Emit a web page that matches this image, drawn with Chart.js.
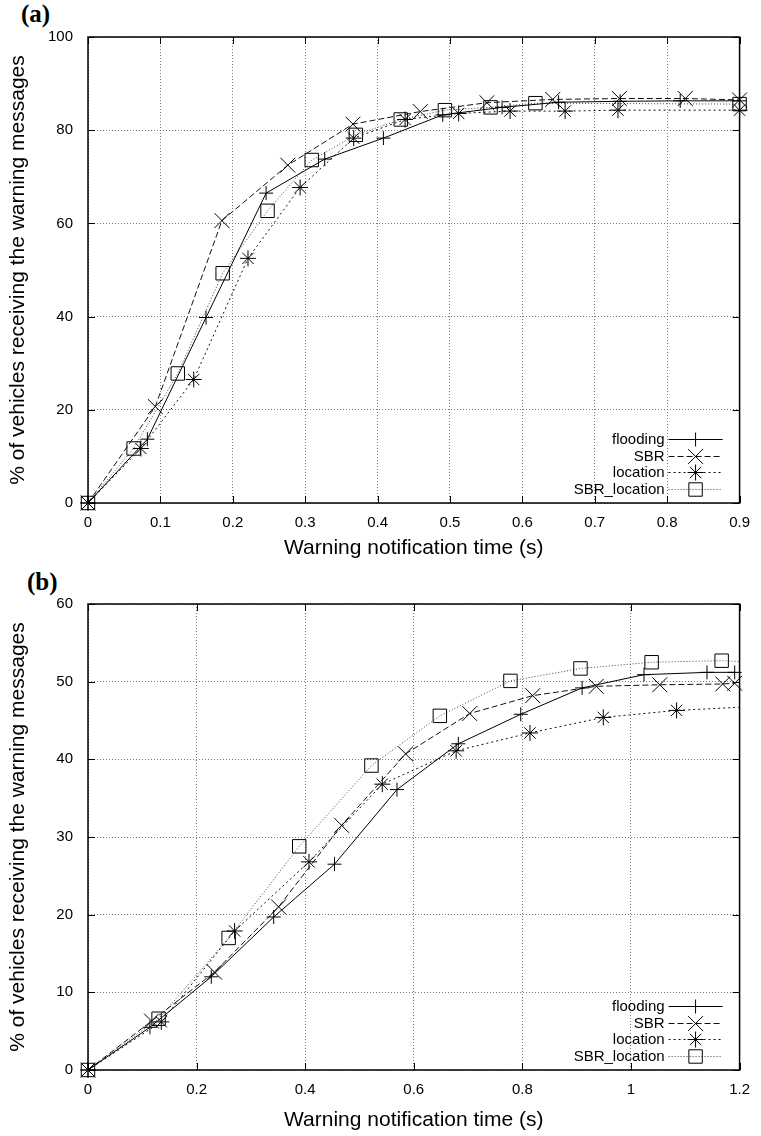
<!DOCTYPE html>
<html>
<head>
<meta charset="utf-8">
<script src="https://cdn.jsdelivr.net/npm/chart.js@4.4.1/dist/chart.umd.min.js"></script>
<style>
    body { margin: 0; background: #fff; width: 761px; height: 1136px; position: relative; overflow: hidden; }
    .panel { position: absolute; left: 0; width: 761px; }
    .tag { position: absolute; font-family: "Liberation Serif", "DejaVu Serif", serif; font-weight: bold; font-size: 25px; line-height: 26px; color: #000; }
</style>
</head>
<body>
<div class="tag" style="left:21px; top:1px;">(a)</div>
<div class="panel" style="top:0; height:565px;"><canvas id="chartA" width="761" height="565"></canvas></div>
<div class="tag" style="left:27px; top:569px;">(b)</div>
<div class="panel" style="top:565px; height:571px;"><canvas id="chartB" width="761" height="571"></canvas></div>
<script>
// Series names (legend order)
const seriesNames = ["flooding", "SBR", "location", "SBR_location"];

// Panel (a) - warning notification time (s) / % of vehicles
const floodingTimeA = [0, 0.082, 0.163, 0.246, 0.327, 0.408, 0.490, 0.572, 0.650, 0.735, 0.818, 0.9];
const floodingPctA = [0, 13.7, 39.8, 66.5, 73.8, 78.3, 83.3, 84.9, 86.0, 86.2, 86.3, 86.3];
const sbrTimeA = [0, 0.093, 0.185, 0.276, 0.366, 0.459, 0.551, 0.642, 0.734, 0.825, 0.9];
const sbrPctA = [0, 20.7, 60.6, 72.5, 81.3, 84.0, 85.9, 86.6, 86.8, 86.8, 86.5];
const locationTimeA = [0, 0.073, 0.146, 0.221, 0.293, 0.367, 0.438, 0.512, 0.583, 0.659, 0.732, 0.9];
const locationPctA = [0, 11.7, 26.5, 52.5, 67.7, 78.3, 82.3, 83.6, 84.1, 84.1, 84.3, 84.3];
const sbrLocationTimeA = [0, 0.063, 0.124, 0.186, 0.248, 0.309, 0.370, 0.432, 0.493, 0.556, 0.618, 0.9];
const sbrLocationPctA = [0, 11.7, 27.8, 49.3, 62.7, 73.6, 79.0, 82.3, 84.3, 84.9, 85.8, 85.6];

const xTickLabelsA = ["0", "0.1", "0.2", "0.3", "0.4", "0.5", "0.6", "0.7", "0.8", "0.9"];
const yTickLabelsA = ["0", "20", "40", "60", "80", "100"];

// Panel (b)
const floodingTimeB = [0, 0.114, 0.227, 0.342, 0.454, 0.569, 0.682, 0.797, 0.910, 1.024, 1.140, 1.191];
const floodingPctB = [0, 5.5, 12.0, 19.7, 26.5, 36.1, 42.0, 45.8, 49.2, 50.9, 51.2, 51.2];
const sbrTimeB = [0, 0.117, 0.233, 0.351, 0.467, 0.585, 0.703, 0.819, 0.936, 1.053, 1.169, 1.191];
const sbrPctB = [0, 6.3, 12.6, 21.0, 31.5, 40.7, 45.9, 48.2, 49.4, 49.6, 49.7, 49.8];
const locationTimeB = [0, 0.135, 0.270, 0.407, 0.542, 0.678, 0.814, 0.949, 1.084, 1.2];
const locationPctB = [0, 6.2, 17.9, 26.8, 36.8, 41.1, 43.4, 45.4, 46.3, 46.7];
const sbrLocationTimeB = [0, 0.130, 0.259, 0.389, 0.522, 0.648, 0.778, 0.907, 1.038, 1.167, 1.2];
const sbrLocationPctB = [0, 6.6, 17.0, 28.8, 39.2, 45.6, 50.1, 51.7, 52.5, 52.7, 52.6];
// last point of these curves has no marker (line runs on to the border)
const unmarkedTailB = [0, 0, 1, 1];

const xTickLabelsB = ["0", "0.2", "0.4", "0.6", "0.8", "1", "1.2"];
const yTickLabelsB = ["0", "10", "20", "30", "40", "50", "60"];

// gnuplot-like line / point styles
const seriesStyles = [
    { pointStyle: "cross", radius: 7, dash: [], color: "#000" },
    { pointStyle: "crossRot", radius: 10.5, dash: [6, 3], color: "#111" },
    { pointStyle: "star", radius: 8, dash: [2, 3], color: "#111" },
    { pointStyle: "rect", radius: 9.5, dash: [1, 2], color: "#444" }
];

Chart.defaults.font.family = "'Liberation Sans', Arial, Helvetica, sans-serif";
Chart.defaults.color = "#000";

function buildDatasets(times, values, tails) {
    return seriesNames.map((name, i) => {
        const st = seriesStyles[i];
        const marked = times[i].length - (tails ? tails[i] : 0);
        return {
            label: name,
            data: times[i].map((t, k) => ({ x: t, y: values[i][k] })),
            borderColor: st.color,
            borderWidth: 1,
            borderDash: st.dash,
            fill: false,
            tension: 0,
            pointStyle: st.pointStyle,
            pointRadius: ctx => (ctx.dataIndex < marked ? st.radius : 0),
            pointHoverRadius: st.radius,
            pointBorderColor: "#000",
            pointBackgroundColor: "rgba(0,0,0,0)",
            pointBorderWidth: 1,
            clip: false
        };
    });
}

// Frame, inward tick marks and the key in the lower right
const gnuplotFrame = {
    id: "gnuplotFrame",
    afterDraw(chart) {
        const { ctx, chartArea: a, scales } = chart;
        ctx.save();
        ctx.strokeStyle = "#000";
        ctx.lineWidth = 1;
        ctx.beginPath();
        scales.x.ticks.forEach(t => {
            const px = Math.round(scales.x.getPixelForValue(t.value)) + 0.5;
            ctx.moveTo(px, a.bottom); ctx.lineTo(px, a.bottom - 7);
            ctx.moveTo(px, a.top); ctx.lineTo(px, a.top + 7);
        });
        scales.y.ticks.forEach(t => {
            const py = Math.round(scales.y.getPixelForValue(t.value)) + 0.5;
            ctx.moveTo(a.left, py); ctx.lineTo(a.left + 7, py);
            ctx.moveTo(a.right, py); ctx.lineTo(a.right - 7, py);
        });
        ctx.stroke();
        ctx.lineWidth = 1.5;
        ctx.strokeRect(a.left, a.top, a.right - a.left, a.bottom - a.top);

        // key
        ctx.font = "15px 'Liberation Sans', Arial, sans-serif";
        ctx.textAlign = "right";
        ctx.textBaseline = "middle";
        chart.data.datasets.forEach((ds, i) => {
            const y = Math.round(a.bottom - 64 + i * 16.5) + 0.5;
            ctx.fillStyle = "#000";
            ctx.fillText(ds.label, a.right - 75, y);
            ctx.strokeStyle = ds.borderColor;
            ctx.lineWidth = 1;
            ctx.setLineDash(ds.borderDash);
            ctx.beginPath();
            ctx.moveTo(a.right - 71, y);
            ctx.lineTo(a.right - 17, y);
            ctx.stroke();
            ctx.setLineDash([]);
            ctx.strokeStyle = "#000";
            ctx.fillStyle = "rgba(0,0,0,0)";
            Chart.helpers.drawPoint(ctx, {
                pointStyle: ds.pointStyle,
                radius: seriesStyles[i].radius,
                borderWidth: 1,
                rotation: 0
            }, a.right - 44, y);
        });
        ctx.restore();
    }
};

function initPanel(canvasId, datasets, opts) {
    const canvas = document.getElementById(canvasId);
    if (!canvas || !window.Chart) {
        console.error("Canvas element or Chart.js not found");
        return;
    }
    const tickFont = { size: 15 };
    return new Chart(canvas.getContext("2d"), {
        type: "line",
        data: { datasets: datasets },
        plugins: [gnuplotFrame],
        options: {
            responsive: false,
            animation: false,
            layout: { padding: opts.padding },
            plugins: { legend: { display: false }, tooltip: { enabled: false } },
            scales: {
                x: {
                    type: "linear",
                    min: 0,
                    max: opts.xMax,
                    ticks: {
                        stepSize: opts.xStep,
                        padding: 11,
                        maxRotation: 0,
                        autoSkip: false,
                        font: tickFont,
                        color: "#000",
                        callback: (v, i) => opts.xLabels[i] ?? String(v)
                    },
                    grid: { color: "#7a7a7a", lineWidth: 1, drawTicks: false },
                    border: { display: false, dash: [1, 2] },
                    title: {
                        display: true,
                        text: "Warning notification time (s)",
                        color: "#000",
                        font: { size: 21 },
                        padding: { top: 0, bottom: opts.xTitlePad }
                    },
                    afterFit: s => { s.height = opts.xHeight; }
                },
                y: {
                    min: 0,
                    max: opts.yMax,
                    ticks: {
                        stepSize: opts.yStep,
                        padding: 15,
                        font: tickFont,
                        color: "#000",
                        callback: (v, i) => opts.yLabels[i] ?? String(v)
                    },
                    grid: { color: "#7a7a7a", lineWidth: 1, drawTicks: false },
                    border: { display: false, dash: [1, 2] },
                    title: {
                        display: true,
                        text: "% of vehicles receiving the warning messages",
                        color: "#000",
                        font: { size: 21 },
                        padding: { top: 6, bottom: 0 }
                    },
                    afterFit: s => { s.width = 88; }
                }
            }
        }
    });
}

initPanel("chartA",
    buildDatasets(
        [floodingTimeA, sbrTimeA, locationTimeA, sbrLocationTimeA],
        [floodingPctA, sbrPctA, locationPctA, sbrLocationPctA]),
    {
        padding: { left: 0, right: 18, top: 37, bottom: 0 },
        xMax: 0.9, xStep: 0.1, xLabels: xTickLabelsA,
        yMax: 100, yStep: 20, yLabels: yTickLabelsA,
        xHeight: 62, xTitlePad: 4
    });

initPanel("chartB",
    buildDatasets(
        [floodingTimeB, sbrTimeB, locationTimeB, sbrLocationTimeB],
        [floodingPctB, sbrPctB, locationPctB, sbrLocationPctB],
        unmarkedTailB),
    {
        padding: { left: 0, right: 12, top: 39, bottom: 0 },
        xMax: 1.2, xStep: 0.2, xLabels: xTickLabelsB,
        yMax: 60, yStep: 10, yLabels: yTickLabelsB,
        xHeight: 66, xTitlePad: 3
    });
</script>
</body>
</html>
